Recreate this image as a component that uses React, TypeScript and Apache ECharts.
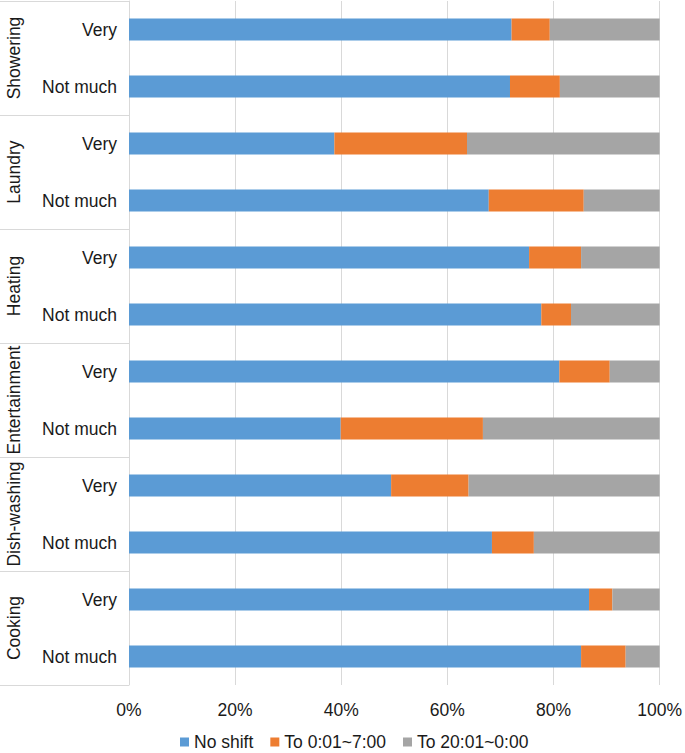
import React, { useEffect, useRef } from "react";
import * as echarts from "echarts";

const groups = ["Showering", "Laundry", "Heating", "Entertainment", "Dish-washing", "Cooking"];
const levels = ["Very", "Not much"];
const seriesNames = ["No shift", "To 0:01~7:00", "To 20:01~0:00"];
const noShift = [72.1, 71.8, 38.7, 67.8, 75.4, 77.7, 81.1, 39.9, 49.4, 68.4, 86.7, 85.2];
const toEarly = [7.2, 9.4, 25.0, 17.9, 9.8, 5.6, 9.5, 26.8, 14.6, 7.9, 4.4, 8.4];
const toLate = [20.7, 18.8, 36.3, 14.3, 14.8, 16.7, 9.4, 33.3, 36.0, 23.7, 8.9, 6.4];
const xTicks = [0, 20, 40, 60, 80, 100];

const colors = ["#5B9BD5", "#ED7D31", "#A5A5A5"];
const FONT = "Liberation Sans, Arial, Helvetica, sans-serif";
const TEXT = "#1a1a1a";
const LINE = "#d9d9d9";
const FS = 17.5;

export default function App() {
  const ref = useRef<HTMLDivElement>(null);
  useEffect(() => {
    if (!ref.current) return;
    const chart = echarts.init(ref.current, undefined, { renderer: "svg" });
    const rowKeys: string[] = [];
    groups.forEach((g) => levels.forEach((l) => rowKeys.push(g + "|" + l)));
    const values = [noShift, toEarly, toLate];
    chart.setOption({
      animation: false,
      textStyle: { fontFamily: FONT },
      color: colors,
      grid: { left: 129, right: 25, top: 1, bottom: 68, containLabel: false },
      legend: {
        data: seriesNames,
        left: 180,
        top: 733,
        padding: 0,
        itemWidth: 9,
        itemHeight: 9,
        itemGap: 17,
        icon: "rect",
        textStyle: { fontSize: FS, color: TEXT, fontFamily: FONT },
      },
      xAxis: {
        type: "value",
        min: xTicks[0],
        max: xTicks[xTicks.length - 1],
        interval: 20,
        axisLine: { show: false },
        axisTick: { show: false },
        splitLine: { show: true, lineStyle: { color: LINE, width: 1 } },
        axisLabel: {
          formatter: "{value}%",
          fontSize: FS,
          color: TEXT,
          margin: 16,
          fontFamily: FONT,
        },
      },
      yAxis: [
        {
          type: "category",
          data: rowKeys,
          inverse: true,
          position: "left",
          axisLine: { show: true, lineStyle: { color: LINE, width: 1 } },
          axisTick: { show: false },
          axisLabel: {
            interval: 0,
            fontSize: FS,
            color: TEXT,
            margin: 12,
            fontFamily: FONT,
            formatter: (v: string) => v.split("|")[1],
          },
        },
        {
          type: "category",
          data: groups,
          inverse: true,
          position: "left",
          offset: 0,
          axisLine: { show: false },
          axisTick: {
            show: true,
            length: 130,
            inside: false,
            lineStyle: { color: LINE, width: 1 },
          },
          axisLabel: {
            interval: 0,
            rotate: 90,
            align: "center",
            verticalAlign: "middle",
            margin: 115,
            fontSize: FS,
            color: TEXT,
            fontFamily: FONT,
          },
          splitLine: { show: false },
        },
      ],
      series: seriesNames.map((name, i) => ({
        name,
        type: "bar",
        stack: "total",
        yAxisIndex: 0,
        barWidth: 22,
        data: values[i],
        itemStyle: { color: colors[i] },
      })),
    });
    return () => chart.dispose();
  }, []);
  return (
    <div
      ref={ref}
      style={{ position: "absolute", left: 0, top: 0, width: 685, height: 753 }}
    />
  );
}
